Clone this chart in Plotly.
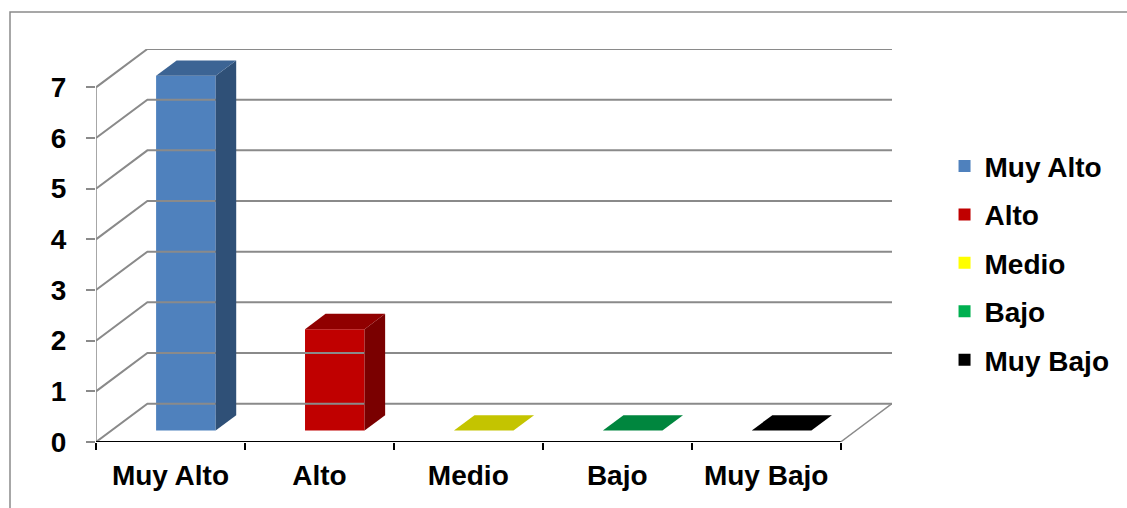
import plotly.graph_objects as go

# Data
categories = ["Muy Alto", "Alto", "Medio", "Bajo", "Muy Bajo"]
values = [7, 2, 0, 0, 0]
y_ticks = [0, 1, 2, 3, 4, 5, 6, 7]

# Face colours for each category: front, top, side
front_colors = ["#4F81BD", "#C00000", "#FFFF00", "#00B050", "#000000"]
top_colors = ["#3C6494", "#900000", "#C4C400", "#00863E", "#000000"]
side_colors = ["#2F5077", "#7A0000", "#A0A000", "#006C32", "#000000"]

# Oblique projection of the depth axis (in data units)
DX = 0.345   # horizontal shift per unit depth (category units)
DY = 0.757   # vertical shift per unit depth (value units)
BAR_HALF = 0.2
D_FRONT, D_BACK = 0.3, 0.7

W, H = 1127, 508
L, R, T, B = 96, 235, 49, 66

GRID = "#8A8A8A"
FONT = "Liberation Sans, Arial, sans-serif"

n = len(categories)
x_lo, x_hi = -0.5, n - 0.5


def proj(x, y, d):
    return x + d * DX, y + d * DY


fig = go.Figure()

# Back walls: grid lines run from the front vertical axis diagonally to the back plane
for k in y_ticks:
    pts = [proj(x_lo, k, 0), proj(x_lo, k, 1), proj(x_hi, k, 1)]
    fig.add_trace(go.Scatter(x=[p[0] for p in pts], y=[p[1] for p in pts], mode="lines",
                             line=dict(color=GRID, width=2), hoverinfo="skip", showlegend=False))

# Right edge of the floor
pts = [proj(x_hi, 0, 0), proj(x_hi, 0, 1)]
fig.add_trace(go.Scatter(x=[p[0] for p in pts], y=[p[1] for p in pts], mode="lines",
                         line=dict(color=GRID, width=1.5), hoverinfo="skip", showlegend=False))

# Front vertical axis line
fig.add_trace(go.Scatter(x=[x_lo, x_lo], y=[0, max(y_ticks)], mode="lines",
                         line=dict(color=GRID, width=1.5), hoverinfo="skip", showlegend=False))


def poly(pts, color):
    xs = [p[0] for p in pts] + [pts[0][0]]
    ys = [p[1] for p in pts] + [pts[0][1]]
    fig.add_trace(go.Scatter(x=xs, y=ys, mode="lines", fill="toself", fillcolor=color,
                             line=dict(width=0, color=color), hoverinfo="skip", showlegend=False))


# 3D columns
for i, (cat, v) in enumerate(zip(categories, values)):
    xl, xr = i - BAR_HALF, i + BAR_HALF
    # side face
    if v > 0:
        poly([proj(xr, 0, D_FRONT), proj(xr, 0, D_BACK), proj(xr, v, D_BACK), proj(xr, v, D_FRONT)],
             side_colors[i])
    # top face
    poly([proj(xl, v, D_FRONT), proj(xr, v, D_FRONT), proj(xr, v, D_BACK), proj(xl, v, D_BACK)],
         top_colors[i])
    # front face (also provides the legend entry)
    fx, fy = proj(i, 0, D_FRONT)
    fig.add_trace(go.Bar(x=[fx], y=[v], base=[fy], width=2 * BAR_HALF, name=cat,
                         marker=dict(color=front_colors[i], line=dict(width=0)),
                         legendgroup=cat, hoverinfo="skip"))

# Front floor edge (x axis line)
fig.add_trace(go.Scatter(x=[x_lo, x_hi], y=[0, 0], mode="lines",
                         line=dict(color="#000000", width=2), hoverinfo="skip", showlegend=False))

fig.update_layout(
    width=W, height=H,
    margin=dict(l=L, r=R, t=T, b=B),
    paper_bgcolor="white", plot_bgcolor="white",
    barmode="overlay",
    font=dict(family=FONT, size=28, color="black"),
    xaxis=dict(range=[x_lo, x_hi + DX], tickvals=list(range(n)), ticktext=categories,
               showgrid=False, zeroline=False, showline=False, ticks="",
               tickfont=dict(family=FONT, size=28, color="black", weight="bold"),
               ticklabelstandoff=14,
               minor=dict(tick0=x_lo, dtick=1, ticks="outside", ticklen=7,
                          tickcolor="#000000", tickwidth=2, showgrid=False)),
    yaxis=dict(range=[0, max(y_ticks) + DY], tickvals=y_ticks, showgrid=False, zeroline=False,
               showline=False, ticks="outside", ticklen=9, tickcolor=GRID, tickwidth=1.5,
               tickfont=dict(family=FONT, size=28, color="black", weight="bold"),
               ticklabelstandoff=14),
    legend=dict(x=1.066, xanchor="left", y=0.765, yanchor="top", tracegroupgap=9,
                font=dict(family=FONT, size=28, color="black", weight="bold"),
                bgcolor="rgba(0,0,0,0)"),
    showlegend=True,
)

# Chart frame
fig.add_shape(type="rect", xref="paper", yref="paper",
              x0=-(L - 10) / (W - L - R), x1=(W + 20 - L) / (W - L - R),
              y0=-(B + 20) / (H - T - B), y1=1 + (T - 12) / (H - T - B),
              line=dict(color="#8A8A8A", width=1.5), fillcolor="rgba(0,0,0,0)", layer="below")

fig.write_html("out.html")
